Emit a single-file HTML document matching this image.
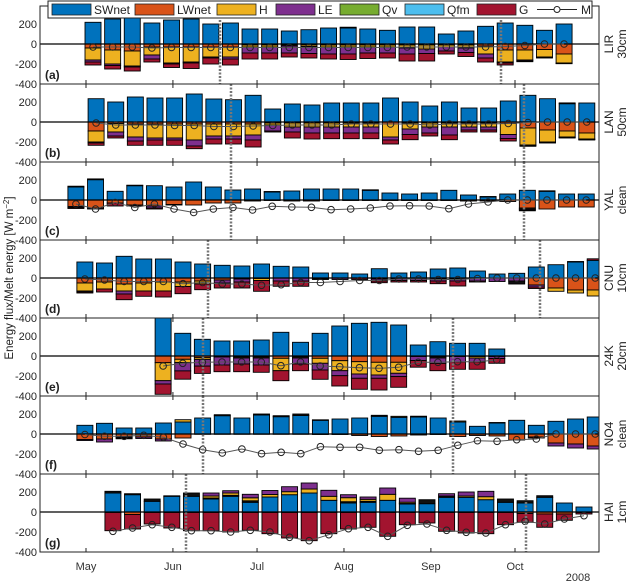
<!DOCTYPE html>
<html><head><meta charset="utf-8"><style>
html,body{margin:0;padding:0;background:#fff}
svg{display:block;font-family:"Liberation Sans",sans-serif}
</style></head><body>
<svg id="chart" width="630" height="583" viewBox="0 0 630 583"></svg>
<script>
// ---- data (W m^-2), one week per bar ----
const monthLabels = ["May","Jun","Jul","Aug","Sep","Oct"];
const monthDays = [0,31,61,92,123,153];
const yTicks = [200,0,-200,-400];

const SW_a=[217,250,283,210,240,250,200,210,150,150,130,143,160,160,150,137,170,170,100,130,177,210,187,137,200];
const LW_a=[-40,-60,-70,-30,-30,-30,-30,-30,-10,-10,-10,-10,-10,-10,-10,-10,-10,-10,-10,-10,-20,-60,-60,-55,-100];
const H_a=[-120,-140,-150,-80,-160,-150,-100,-100,-20,-20,-10,-15,-20,-20,-20,-20,-30,-40,-20,-30,-80,-120,-100,-75,-90];
const LE_a=[-20,-15,-10,-40,-10,-10,-10,-20,-60,-60,-70,-70,-70,-70,-60,-60,-60,-45,-40,-45,-40,-10,-10,-5,-5];
const G_a=[-30,-35,-40,-30,-35,-55,-60,-60,-60,-60,-40,-45,-50,-55,-55,-50,-70,-75,-30,-40,-40,-20,-7,-5,-2];
const R_a=[0,0,0,0,0,0,0,0,0,0,0,0,0,8,0,0,0,0,0,0,0,0,0,0,0];
const M_a=[-30,-30,-30,-40,-35,-35,-35,-35,-35,-35,-35,-35,-35,-35,-35,-35,-30,-30,-30,-30,-30,-25,-15,0,0];

const SW_b=[233,200,250,240,240,280,230,223,267,130,180,170,190,190,190,240,200,160,200,140,140,210,267,233,183,190];
const LW_b=[-90,-15,-20,-20,-20,-20,-20,-20,-20,-10,-10,-10,-10,-10,-10,-20,-10,-10,-10,-10,-10,-15,-60,-80,-90,-110];
const H_b=[-110,-85,-130,-140,-140,-160,-120,-120,-110,-20,-40,-40,-40,-40,-40,-130,-60,-40,-40,-40,-40,-110,-170,-120,-60,-60];
const LE_b=[-10,-40,-40,-20,-20,-60,-30,-30,-50,-60,-50,-60,-60,-60,-60,-30,-55,-60,-80,-30,-30,-40,-5,-5,-5,-5];
const G_b=[-23,-20,-43,-53,-53,-27,-50,-50,-70,-10,-60,-60,-57,-57,-57,-40,-52,-30,-47,-20,-20,-25,-8,-5,-5,-5];
const R_b=[0,0,0,0,0,0,0,0,0,0,0,0,0,0,0,0,0,0,0,0,0,0,0,0,8,0];
const M_b=[-10,-30,-30,-30,-35,-35,-45,-45,-40,-35,-30,-30,-30,-20,-20,-20,-20,-30,-20,-20,-20,-15,-5,0,0,0];

const SW_c=[130,203,87,143,143,130,180,130,100,110,80,90,110,110,110,97,70,60,70,97,50,30,60,97,87,60,60];
const LW_c=[-65,-80,-30,-50,-60,-45,-50,-30,-30,-10,-5,-10,-10,-5,-5,-5,-5,-5,-5,-5,-10,-10,-15,-80,-90,-70,-70];
const H_c=[0,0,0,0,0,0,0,0,0,0,0,0,0,0,0,0,0,0,0,0,0,0,0,-10,0,0,0];
const LE_c=[-10,-10,0,0,-20,0,0,0,0,0,0,0,0,0,0,0,0,0,0,0,0,0,0,-10,0,0,0];
const Qv_c=[0,0,0,0,0,0,0,0,0,0,0,0,0,0,0,0,0,0,0,0,0,0,0,-8,0,0,0];
const G_c=[-10,8,-30,-10,-10,-5,0,0,0,0,0,0,0,0,0,0,0,0,0,0,0,0,0,0,0,0,0];
const R_c=[8,0,0,5,0,0,0,0,0,0,5,0,0,0,0,5,0,0,0,0,0,5,0,0,5,0,0];
const M_c=[-40,-90,-25,-75,-40,-90,-125,-90,-75,-100,-63,-70,-73,-97,-90,-80,-60,-57,-60,-87,-40,-20,0,0,0,0,0];

const SW_d=[160,150,217,190,190,160,140,127,120,140,117,110,50,50,40,93,50,60,90,100,70,40,47,110,133,160,177];
const LW_d=[-50,-40,-60,-50,-40,-40,-30,-20,-10,-5,0,0,-5,0,0,-10,-5,-5,-5,0,0,0,0,-70,-100,-120,-120];
const H_d=[-80,-70,-70,-80,-90,-45,-30,0,0,-20,0,0,0,0,0,0,0,0,0,-10,0,0,0,0,-33,-30,-60];
const LE_d=[-10,0,-30,0,0,0,0,-30,-30,0,-30,-30,-5,-15,0,-20,-20,-20,-25,-20,-30,-35,-30,-20,0,0,0];
const G_d=[-10,-30,-57,-53,-60,-72,-57,-50,-60,-108,-53,-53,-5,0,-15,-17,-15,-15,-27,-50,-10,0,0,-15,0,0,15];
const R_d=[0,0,0,0,0,0,0,0,0,0,0,0,0,0,0,0,0,0,0,0,0,0,-30,0,0,5,0];
const M_d=[-10,-20,-35,-35,-35,-57,-45,-60,-60,-73,-67,-45,-45,-35,-25,-25,-10,-10,-15,-15,-5,0,0,0,0,0,0];

const SW_e=[400,227,167,150,150,160,237,137,227,300,327,337,310,110,143,127,127,70];
const LW_e=[-67,-33,-17,-10,-10,-10,-23,-10,-23,-47,-57,-63,-63,-5,-10,-5,-5,-5];
const H_e=[-180,-33,-17,0,-10,-10,-124,-10,-50,-100,-123,-127,-110,0,-10,0,-15,0];
const LE_e=[-33,-83,-67,-80,-60,-70,0,-60,-67,-50,-43,-33,-33,-40,-54,-55,-40,-20];
const G_e=[-103,-83,-73,-67,-77,-73,-100,-67,-93,-103,-110,-117,-107,-67,-73,-73,-73,-48];
const M_e=[-100,-73,-63,-60,-60,-60,-97,-60,-100,-107,-117,-123,-113,-63,-63,-57,-57,-40];

const SW_f=[87,107,60,60,110,120,160,183,160,190,173,185,137,150,160,177,167,170,160,120,77,110,137,87,127,150,170];
const LW_f=[-55,-50,-30,-30,-50,-40,-3,-3,-3,-3,-3,-3,-5,-5,-15,-25,-20,-10,-5,-25,-15,-20,-60,-30,-90,-100,-120];
const H_f=[0,0,0,0,0,23,0,0,0,0,0,0,0,0,0,0,10,0,0,10,0,0,0,0,0,0,0];
const LE_f=[-10,-30,-10,-15,-20,0,0,0,0,0,0,0,0,0,0,0,0,0,0,0,0,0,0,0,-30,-40,-30];
const G_f=[0,0,0,0,0,0,0,0,0,0,0,0,0,0,0,0,0,0,0,0,0,0,0,-10,0,0,0];
const R_f=[0,0,-8,0,0,0,0,10,0,10,10,15,5,0,0,10,0,8,0,0,0,5,0,0,0,0,0];
const M_f=[-5,-23,-23,-13,-33,-100,-157,-190,-150,-197,-183,-197,-127,-133,-133,-163,-157,-173,-163,-113,-67,-73,-57,-50,0,0,0];

const SW_g=[190,173,107,157,157,130,157,97,150,173,190,117,90,97,117,80,83,147,147,123,97,90,147,90,50];
const LW_g=[-5,-25,-5,-5,-5,-5,-5,-5,-5,-5,-5,-5,-5,-5,-5,-5,-5,-5,-5,-5,-5,-15,-20,-20,-5];
const H_g=[0,0,0,0,0,20,23,30,25,30,40,40,40,20,60,13,0,0,13,30,0,0,0,0,0];
const LE_g=[0,0,0,0,0,30,23,35,40,50,60,60,30,23,63,40,0,23,40,54,0,0,0,0,0];
const G_g=[-182,-145,-115,-155,-182,-182,-195,-178,-212,-255,-282,-212,-165,-148,-238,-122,-105,-188,-205,-212,-122,-88,-133,-63,-15];
const R_g=[17,10,23,5,33,10,10,15,0,0,0,0,13,10,0,5,40,13,0,0,33,23,16,0,0];
const M_g=[-193,-160,-127,-153,-187,-187,-200,-183,-200,-253,-287,-227,-167,-153,-243,-133,-120,-183,-203,-210,-127,-93,-120,-70,-37];

const Z=[];
const panels=[
 {id:"a",site:"LIR",sub:"30cm",start:2.5,SW:SW_a,LW:LW_a,H:H_a,LE:LE_a,G:G_a,R:R_a,M:M_a,dots:[220,501]},
 {id:"b",site:"LAN",sub:"50cm",start:3.6,SW:SW_b,LW:LW_b,H:H_b,LE:LE_b,G:G_b,R:R_b,M:M_b,dots:[231,524]},
 {id:"c",site:"YAL",sub:"clean",start:-3.6,SW:SW_c,LW:LW_c,H:H_c,LE:LE_c,Qv:Qv_c,G:G_c,R:R_c,M:M_c,dots:[231,524]},
 {id:"d",site:"CNU",sub:"10cm",start:-0.4,SW:SW_d,LW:LW_d,H:H_d,LE:LE_d,G:G_d,R:R_d,M:M_d,dots:[208,540]},
 {id:"e",site:"24K",sub:"20cm",start:27.5,SW:SW_e,LW:LW_e,H:H_e,LE:LE_e,G:G_e,M:M_e,dots:[203,453]},
 {id:"f",site:"NO4",sub:"clean",start:-0.4,SW:SW_f,LW:LW_f,H:H_f,LE:LE_f,G:G_f,R:R_f,M:M_f,dots:[203,453]},
 {id:"g",site:"HAI",sub:"1cm",start:9.6,SW:SW_g,LW:LW_g,H:H_g,LE:LE_g,G:G_g,R:R_g,M:M_g,dots:[186,526]}
];
const colors={SW:"#0072BD",LW:"#D95319",H:"#EDB120",LE:"#7E2F8E",Qv:"#77AC30",Qfm:"#4DBEEE",G:"#A2142F",R:"#111"};
const posOrder=["SW","LW","R","Qv","H","LE","G"];
const negOrder=["LW","H","LE","Qv","R","G"];

const NS="http://www.w3.org/2000/svg";
const svg=document.getElementById("chart");
const X0=40,X1=599;
function xd(d){return 86+d*2.804;}
function yv(v,z){return z-v*0.1;}
function mk(tag,attrs,parent){const e=document.createElementNS(NS,tag);for(const k in attrs)e.setAttribute(k,attrs[k]);(parent||svg).appendChild(e);return e;}

panels.forEach((p,k)=>{
  const z=44+78*k, top=z-38, bot=z+40;
  const g=mk("g",{});
  
  
  const cp=mk("clipPath",{id:"cp"+k},g);
  mk("rect",{x:X0,y:top,width:X1-X0,height:bot-top},cp);
  const bars=mk("g",{"clip-path":"url(#cp"+k+")"},g);
  p.SW.forEach((_,i)=>{
    const cx=xd(p.start+7*i);
    let pos=0,neg=0;
    posOrder.forEach(s=>{const v=p[s]?p[s][i]:0; if(v>0){
      const r=mk("rect",{x:cx-8,y:yv(pos+v,z),width:16,height:v*0.1,fill:colors[s],stroke:"#000","stroke-width":0.9},bars);
      
      
      pos+=v;}});
    negOrder.forEach(s=>{const v=p[s]?p[s][i]:0; if(v<0){
      const r=mk("rect",{x:cx-8,y:yv(neg,z),width:16,height:-v*0.1,fill:colors[s],stroke:"#000","stroke-width":0.9},bars);
      
      
      neg+=v;}});
  });
  mk("line",{x1:X0,x2:X1,y1:z,y2:z,stroke:"#000","stroke-width":1.2},bars);
  // M line
  const pts=p.M.map((m,i)=>xd(p.start+7*i)+","+yv(m,z)).join(" ");
  const pl=mk("polyline",{points:pts,fill:"none",stroke:"#555","stroke-width":1},bars);
  
  
  p.M.forEach((m,i)=>{const c=mk("circle",{cx:xd(p.start+7*i),cy:yv(m,z),r:3.3,fill:"none",stroke:"#222","stroke-width":1},bars);
    
    });
  p.dots.forEach(dx=>{const l=mk("line",{x1:dx,x2:dx,y1:top,y2:bot,stroke:"#777","stroke-width":2.5,"stroke-dasharray":"2,1.5"},bars);
    
    });
  // box
  const bx=mk("rect",{x:X0,y:top,width:X1-X0,height:bot-top,fill:"none",stroke:"#222","stroke-width":1},g);
  
  
  monthDays.forEach(d=>{mk("line",{x1:xd(d),x2:xd(d),y1:top,y2:top+4,stroke:"#222"},g);mk("line",{x1:xd(d),x2:xd(d),y1:bot,y2:bot-4,stroke:"#222"},g);});
  yTicks.forEach(t=>{const tx=mk("text",{x:37,y:yv(t,z)+4,"text-anchor":"end","font-size":11,fill:"#262626"},g);tx.textContent=t;
    
    });
  const pl2=mk("text",{x:45,y:z+35,"font-size":12,"font-weight":"bold",fill:"#222"},g);pl2.textContent="("+p.id+")";
  
  
  const s1=mk("text",{x:0,y:0,"font-size":12,fill:"#222","text-anchor":"middle",transform:"translate(613,"+z+") rotate(-90)"},g);s1.textContent=p.site;
  
  
  const s2=mk("text",{x:0,y:0,"font-size":12,fill:"#222","text-anchor":"middle",transform:"translate(626,"+z+") rotate(-90)"},g);s2.textContent=p.sub;
  
  
});
monthLabels.forEach((m,i)=>{const t=mk("text",{x:xd(monthDays[i]),y:570,"text-anchor":"middle","font-size":11,fill:"#333"});t.textContent=m;
  
  });
const yr=mk("text",{x:578,y:581,"text-anchor":"middle","font-size":11,fill:"#333"});yr.textContent="2008";


const yt=mk("text",{x:0,y:0,"text-anchor":"middle","font-size":11.5,fill:"#222",transform:"translate(13,278) rotate(-90)"});
yt.innerHTML='Energy flux/Melt energy [W m<tspan dy="-4" font-size="8">−2</tspan><tspan dy="4">]</tspan>';


// legend
const lg=mk("g",{});


mk("rect",{x:48,y:1,width:544,height:17,fill:"#fff",stroke:"#222"},lg);
const legendNames=["SWnet","LWnet","H","LE","Qv","Qfm","G"];
const legendKeys=["SW","LW","H","LE","Qv","Qfm","G"];
const legendX=[52,135,217,276,340,405,477];
legendNames.forEach((n,i)=>{
  const e=mk("g",{},lg);
  
  
  mk("rect",{x:legendX[i],y:4,width:39,height:11,fill:colors[legendKeys[i]],stroke:"#222","stroke-width":0.8},e);
  const t=mk("text",{x:legendX[i]+42,y:14,"font-size":12,fill:"#222"},e);t.textContent=n;
});
const le=mk("g",{},lg);


mk("line",{x1:537,x2:577,y1:9.5,y2:9.5,stroke:"#222"},le);
mk("circle",{cx:557,cy:9.5,r:3,fill:"#fff",stroke:"#222"},le);
const mt=mk("text",{x:581,y:14,"font-size":12,fill:"#222"},le);mt.textContent="M";
</script>
</body></html>
